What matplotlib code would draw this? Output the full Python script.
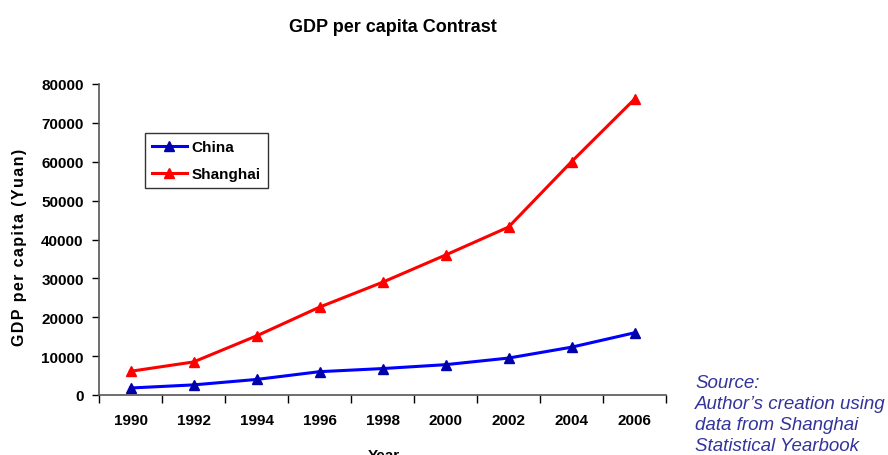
import numpy as np
import matplotlib.pyplot as plt

years = ['1990', '1992', '1994', '1996', '1998', '2000', '2002', '2004', '2006']
china = [1800, 2600, 4000, 6000, 6800, 7800, 9500, 12300, 16000]
shanghai = [6100, 8500, 15200, 22600, 29000, 36000, 43200, 60000, 76100]

plt.rcParams['font.family'] = ['Liberation Sans', 'DejaVu Sans']

fig = plt.figure(figsize=(8.88, 4.56), dpi=100)
ax = fig.add_axes([99/888, 60/456, 567/888, 311/456])

x = np.arange(len(years))
ax.plot(x, china, color='#0000ff', lw=2.2, marker='^', ms=7.5,
        markerfacecolor='#0000aa', markeredgecolor='#0000aa', label='China')
ax.plot(x, shanghai, color='#ff0000', lw=2.2, marker='^', ms=7.5,
        markerfacecolor='#ff0000', markeredgecolor='#ff0000', label='Shanghai')

ax.set_xlim(-0.5, len(years) - 0.5)
ax.set_ylim(0, 80000)
ax.set_yticks(np.arange(0, 80001, 10000))
ax.tick_params(axis='y', labelsize=11, length=5, width=1, pad=6)
for lbl in ax.get_yticklabels():
    lbl.set_fontweight('bold')

# tick marks sit between categories, labels at category centres
ax.set_xticks(np.arange(-0.5, len(years)), labels=[''] * (len(years) + 1))
ax.set_xticks(x, labels=years, minor=True)
ax.tick_params(axis='x', which='major', length=6, width=1)
ax.tick_params(axis='x', which='minor', length=0, labelsize=11, pad=13)
for lbl in ax.get_xticklabels(minor=True):
    lbl.set_fontweight('bold')

for s in ['top', 'right']:
    ax.spines[s].set_visible(False)
for s in ['left', 'bottom']:
    ax.spines[s].set_color('#555555')
    ax.spines[s].set_linewidth(1.2)

ax.set_xlabel('Year', fontsize=11, fontweight='bold')
ax.xaxis.set_label_coords(0.503, -0.17)

ylab = '\u200a'.join('GDP per capita (Yuan)')
fig.text(20/888, 1 - 247/456, ylab, rotation=90, ha='center', va='center',
         fontsize=11.5, fontweight='bold')
fig.text(393/888, 1 - 27/456, 'GDP per capita Contrast', ha='center',
         va='center', fontsize=13, fontweight='bold')

leg = ax.legend(loc='upper left', bbox_to_anchor=(46/567, 1 - 49/311),
                borderaxespad=0, fontsize=11, frameon=True, fancybox=False,
                borderpad=0.45, handlelength=2.3, handletextpad=0.3,
                labelspacing=0.85)
leg.get_frame().set_edgecolor('black')
leg.get_frame().set_linewidth(1)
for t in leg.get_texts():
    t.set_fontweight('bold')

fig.text(695/888, 1 - 375/456,
         'Source:\nAuthor\u2019s creation using\ndata from Shanghai\nStatistical Yearbook',
         ha='left', va='top', fontsize=13.5, style='italic', color='#33339a',
         linespacing=1.3)

fig.savefig('out.png', dpi=100)
